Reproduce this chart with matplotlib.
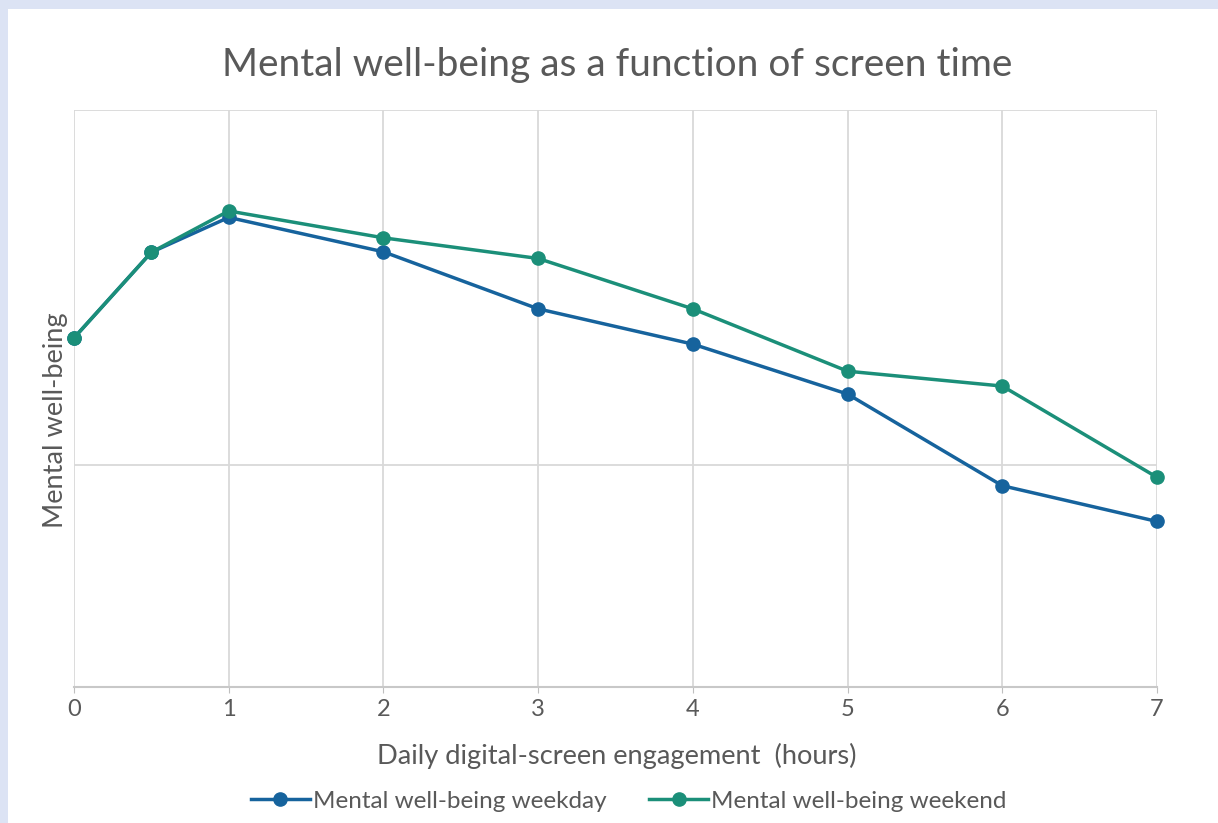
import matplotlib
matplotlib.use("Agg")
import matplotlib.pyplot as plt
from matplotlib.patches import Rectangle

hours = [0, 0.5, 1, 2, 3, 4, 5, 6, 7]
weekday = [1.573, 1.959, 2.116, 1.961, 1.704, 1.545, 1.320, 0.907, 0.746]
weekend = [1.573, 1.959, 2.145, 2.024, 1.931, 1.704, 1.423, 1.356, 0.945]
xticks = [0, 1, 2, 3, 4, 5, 6, 7]
ygrid = [0, 1, 2.6]

title = "Mental well-being as a function of screen time"
xlabel = "Daily digital-screen engagement  (hours)"
ylabel = "Mental well-being"
names = ["Mental well-being weekday", "Mental well-being weekend"]

plt.rcParams['font.family'] = ['Lato', 'DejaVu Sans']
W, H = 1218, 823
fig = plt.figure(figsize=(W / 100, H / 100), dpi=100)
fig.patch.set_facecolor('#dce3f4')
fig.patches.append(Rectangle((8 / W, 0), 1 - 8 / W, 1 - 9 / H, transform=fig.transFigure,
                             facecolor='white', edgecolor='none', zorder=-10))

ax = fig.add_axes([74 / W, 1 - 687 / H, (1157 - 74) / W, (687 - 110) / H])
ax.set_zorder(5)
ax.set_facecolor('white')
blue = '#16639d'
teal = '#1b8f79'
grey = '#595959'

ax.plot(hours, weekday, color=blue, lw=2.5, marker='o', ms=9.5, label=names[0], zorder=3, clip_on=False)
ax.plot(hours, weekend, color=teal, lw=2.5, marker='o', ms=9.5, label=names[1], zorder=4, clip_on=False)

ax.set_xlim(0, 7)
ax.set_ylim(0, 2.6)
ax.set_xticks(xticks)
ax.set_xticklabels([str(t) for t in xticks])
ax.set_yticks(ygrid)
ax.set_yticklabels([])
ax.tick_params(axis='y', length=0)
ax.tick_params(axis='x', length=4, color='#bfbfbf', labelsize=17, labelcolor=grey, pad=5)
ax.grid(True, color='#d9d9d9', lw=1.3, zorder=0)
for s in ['left', 'right', 'top']:
    ax.spines[s].set_visible(False)
ax.spines['bottom'].set_color('#c8c8c8')
ax.spines['bottom'].set_linewidth(1.5)

fig.text(617 / W, 1 - 65 / H, title, ha='center', va='center', fontsize=28, color=grey)
fig.text(617 / W, 1 - 756 / H, xlabel, ha='center', va='center', fontsize=19.6, color=grey)
fig.text(55 / W, 1 - 420 / H, ylabel, ha='center', va='center', rotation=90, fontsize=19.6, color=grey)

leg = fig.legend(loc='center', bbox_to_anchor=(629 / W, 1 - 801 / H), ncol=2, frameon=False,
                 fontsize=17.5, labelcolor=grey, handlelength=2.4, handletextpad=0.15, columnspacing=1.75)

fig.savefig('out.png', dpi=100, facecolor=fig.get_facecolor())
